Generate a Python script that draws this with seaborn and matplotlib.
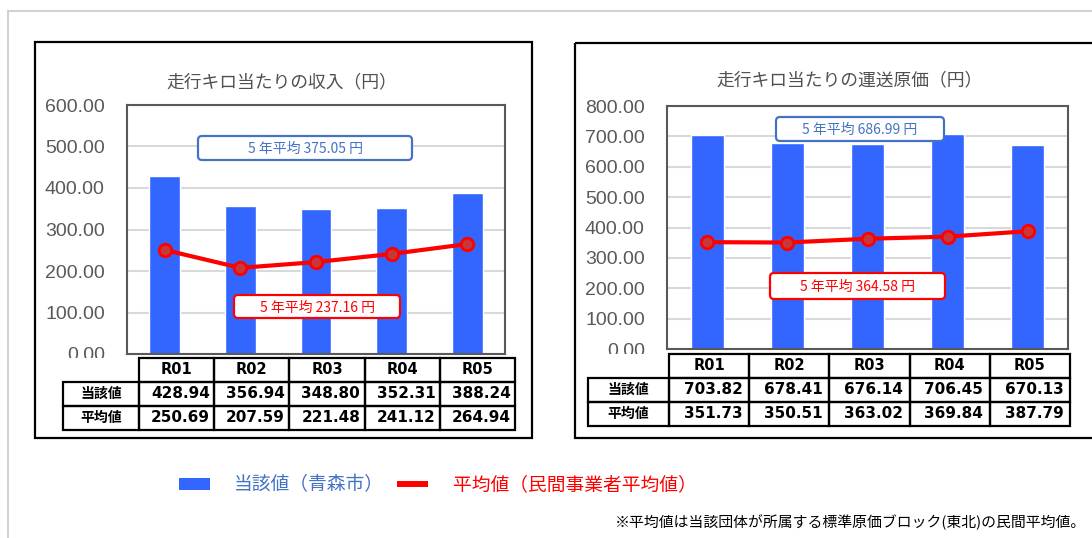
import numpy as np
import pandas as pd
import matplotlib
matplotlib.use('Agg')
import matplotlib.pyplot as plt
import matplotlib.transforms as mtransforms
from matplotlib.patches import Rectangle, FancyBboxPatch, Patch
from matplotlib.lines import Line2D
import seaborn as sns

# data
years = ['R01', 'R02', 'R03', 'R04', 'R05']
row_labels = ['当該値', '平均値']
income_city = [428.94, 356.94, 348.80, 352.31, 388.24]
income_avg = [250.69, 207.59, 221.48, 241.12, 264.94]
cost_city = [703.82, 678.41, 676.14, 706.45, 670.13]
cost_avg = [351.73, 350.51, 363.02, 369.84, 387.79]
titles = ['走行キロ当たりの収入（円）', '走行キロ当たりの運送原価（円）']
legend_labels = ['当該値（青森市）', '平均値（民間事業者平均値）']
note = '※平均値は当該団体が所属する標準原価ブロック(東北)の民間平均値。'

BLUE = '#3366FF'
BLUE_TXT = '#4472C4'
RED = '#FF0000'
GRAY = '#595959'
CJK = ['Noto Sans CJK JP', 'DejaVu Sans']
TICKFONT = ['Liberation Sans', 'DejaVu Sans']

sns.set_theme(style='white')
plt.rcParams['font.family'] = CJK

W, H = 1092, 538
fig = plt.figure(figsize=(W / 100, H / 100), dpi=100, facecolor='white')
# pixel coordinates, origin top-left
px = mtransforms.Affine2D().scale(1 / W, -1 / H).translate(0, 1) + fig.transFigure


def rect(x0, y0, x1, y1):
    return [x0 / W, 1 - y1 / H, (x1 - x0) / W, (y1 - y0) / H]


# outer light frame
fig.add_artist(Line2D([8, W], [11, 11], color='#C8C8C8', lw=1.2, transform=px))
fig.add_artist(Line2D([8, 8], [11, H], color='#C8C8C8', lw=1.2, transform=px))

layouts = [
    dict(city=income_city, avg=income_avg, title=titles[0], ymax=600,
         frame=(35, 42, 532, 438), ax=(127, 105, 505, 354), title_xy=(282, 82),
         table=(63, 358, 515, 430), label_w=76,
         bbox_blue=(198, 136, 412, 160), bbox_red=(234, 295, 400, 318)),
    dict(city=cost_city, avg=cost_avg, title=titles[1], ymax=800,
         frame=(575, 43, 1100, 438), ax=(667, 106, 1068, 349), title_xy=(850, 80),
         table=(588, 354, 1070, 426), label_w=81,
         bbox_blue=(776, 117, 944, 141), bbox_red=(770, 273, 945, 299)),
]

for lay in layouts:
    x0, y0, x1, y1 = lay['frame']
    fig.add_artist(Rectangle((x0, y0), x1 - x0, y1 - y0, fill=False, ec='black',
                             lw=1.6, transform=px))
    fig.text(*lay['title_xy'], lay['title'], transform=px, ha='center', va='center',
             fontsize=12.8, color='#505050')

    df = pd.DataFrame({'year': years, 'city': lay['city'], 'avg': lay['avg']})
    ax = fig.add_axes(rect(*lay['ax']))
    sns.barplot(data=df, x='year', y='city', color=BLUE, saturation=1, width=0.41, ax=ax)
    sns.pointplot(data=df, x='year', y='avg', color=RED, errorbar=None, ax=ax,
                  markers='o', linewidth=3, markersize=9, markeredgewidth=2,
                  markerfacecolor='#C8383A', markeredgecolor=RED)
    ax.set_xlim(-0.5, len(years) - 0.5)
    ax.set_ylim(0, lay['ymax'])
    yt = np.arange(0, lay['ymax'] + 1, 100)
    ax.set_yticks(yt)
    ax.set_yticklabels([f'{v:.2f}' for v in yt], fontfamily=TICKFONT, fontsize=14, color=GRAY)
    ax.set_xticks([])
    ax.set_xlabel('')
    ax.set_ylabel('')
    ax.tick_params(axis='y', length=0, pad=16)
    ax.set_axisbelow(True)
    ax.grid(axis='y', color='#D9D9D9', lw=1.5)
    for s in ax.spines.values():
        s.set_color(GRAY)
        s.set_linewidth(1.5)

    # five-year average boxes
    for key, (bx0, by0, bx1, by1), ec in [('city', lay['bbox_blue'], BLUE_TXT),
                                           ('avg', lay['bbox_red'], RED)]:
        fig.add_artist(FancyBboxPatch((bx0, by0), bx1 - bx0, by1 - by0,
                                      boxstyle='round,pad=0,rounding_size=4',
                                      fc='white', ec=ec, lw=1.6, transform=px, zorder=3))
        fig.text((bx0 + bx1) / 2, (by0 + by1) / 2 + 1,
                 f'5 年平均 {np.mean(lay[key]):.2f} 円', transform=px,
                 ha='center', va='center', fontsize=10, color=ec, zorder=4)

    # data table
    tx0, ty0, tx1, ty1 = lay['table']
    tab = fig.add_axes(rect(tx0, ty0, tx1, ty1))
    tab.set_facecolor('white')
    col_w = (tx1 - tx0 - lay['label_w']) / len(years)
    lab = lay['label_w'] / col_w
    tab.set_xlim(-lab, len(years))
    tab.set_ylim(3, 0)
    tab.set_xticks([])
    tab.set_yticks([])
    for s in tab.spines.values():
        s.set_visible(False)
    for c, yr in enumerate(years):
        tab.add_patch(Rectangle((c, 0), 1, 1, fill=False, ec='black', lw=1.6, clip_on=False))
        tab.text(c + 0.5, 0.5, yr, ha='center', va='center', fontsize=10.5,
                 fontweight='bold', fontfamily='DejaVu Sans', color='black')
    for r, (name, vals) in enumerate(zip(row_labels, [lay['city'], lay['avg']]), start=1):
        tab.add_patch(Rectangle((-lab, r), lab, 1, fill=False, ec='black', lw=1.6, clip_on=False))
        tab.text(-lab / 2, r + 0.5, name, ha='center', va='center', fontsize=10,
                 fontweight='bold', color='black')
        for c, v in enumerate(vals):
            tab.add_patch(Rectangle((c, r), 1, 1, fill=False, ec='black', lw=1.6, clip_on=False))
            tab.text(c + 0.55, r + 0.5, f'{v:.2f}', ha='center', va='center', fontsize=11,
                     fontweight='bold', fontfamily='DejaVu Sans', color='black')

handles = [Patch(fc=BLUE, ec='none'),
           Line2D([0], [0], color=RED, lw=4.3, solid_capstyle='butt')]
fig.legend(handles=handles, labels=legend_labels, ncol=2, loc='center left',
           bbox_to_anchor=(179 / W, 1 - 485 / H), frameon=False,
           prop={'size': 13.5, 'family': CJK}, handlelength=1.65, handleheight=0.55,
           handletextpad=1.3, columnspacing=0.7, labelcolor=[BLUE_TXT, RED],
           borderpad=0, borderaxespad=0)

fig.text(1086, 522, note, transform=px, ha='right', va='center', fontsize=10.7, color='black')

fig.savefig('out.png', dpi=100, facecolor='white')
